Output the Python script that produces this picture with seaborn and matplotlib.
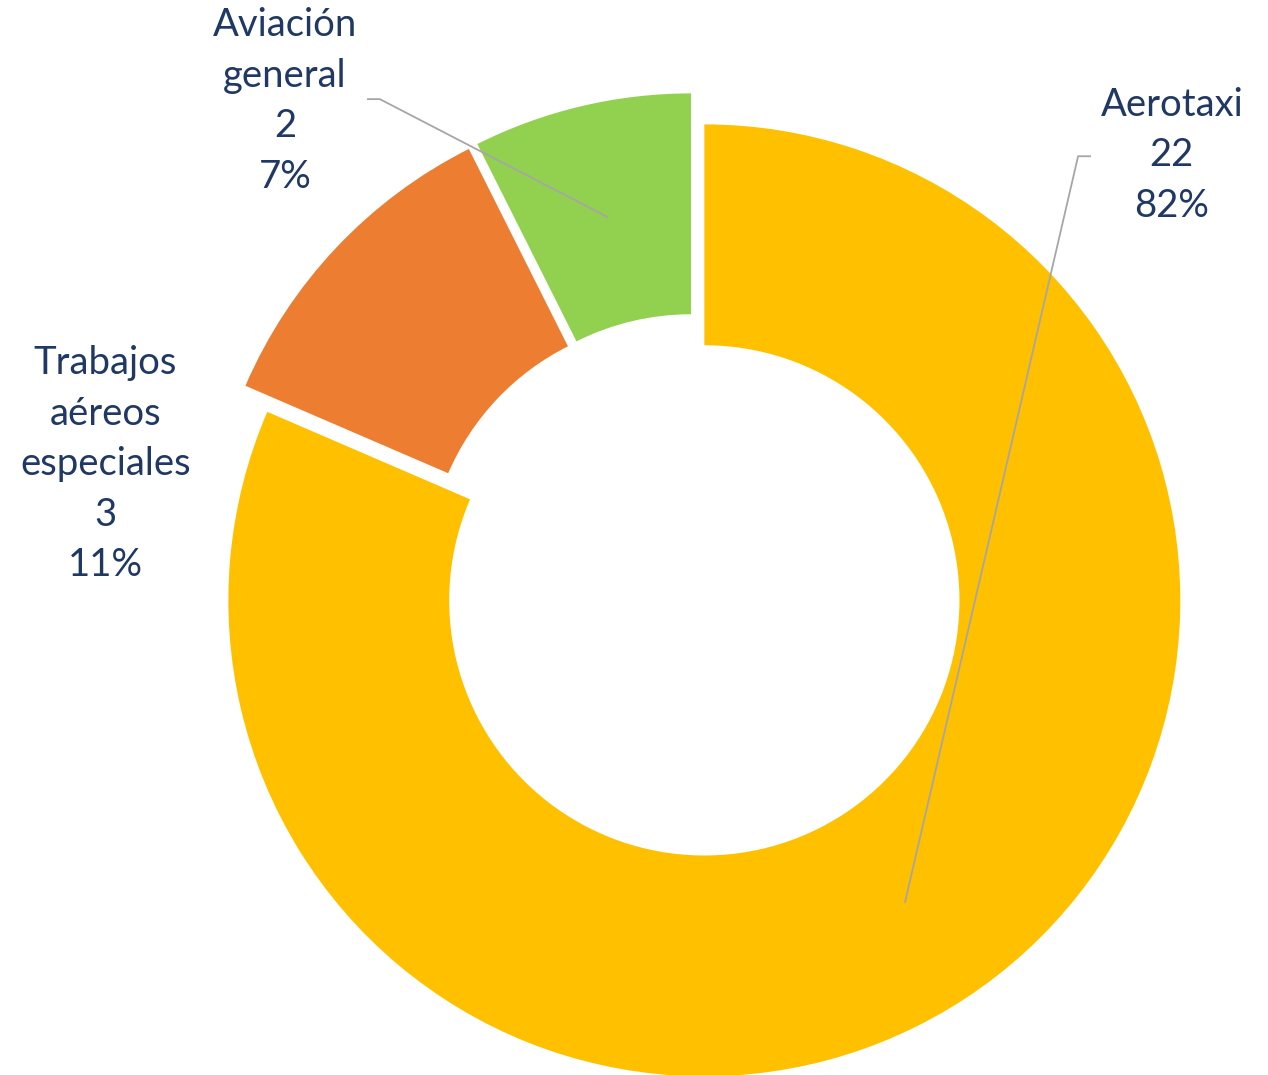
import matplotlib
matplotlib.use("Agg")
import matplotlib.pyplot as plt
import seaborn as sns

# data
categories = ["Aerotaxi", "Trabajos\naéreos\nespeciales", "Aviación\ngeneral"]
values = [22, 3, 2]
percents = [82, 11, 7]  # as printed on the chart
colors = ["#FFC000", "#ED7D31", "#92D050"]

sns.set_theme(style="white")
plt.rcParams["font.family"] = ["Lato", "DejaVu Sans"]

text_color = "#203864"
line_color = "#A6A6A6"

fig = plt.figure(figsize=(12.68, 10.75), dpi=100)
ax = fig.add_axes([0, 0, 1, 1])

wedges, _ = ax.pie(
    values,
    colors=colors,
    startangle=90,
    counterclock=False,
    radius=1.0,
    explode=[0.036] * len(values),
    wedgeprops=dict(width=0.464, linewidth=0),
)

ax.set_aspect("equal")
ax.set_xlim(-1.460, 1.204)
ax.set_ylim(-1.027, 1.231)
ax.axis("off")

labels = [f"{c}\n{v}\n{p}%" for c, v, p in zip(categories, values, percents)]

# label positions and leader lines (annotation placement only)
label_pos = [(1.002, 0.905), (-1.239, 0.256), (-0.861, 1.019)]
leaders = {
    0: [(0.832, 0.903), (0.805, 0.903), (0.441, -0.666)],
    2: [(-0.689, 1.023), (-0.662, 1.023), (-0.183, 0.775)],
}

for i, (lab, (x, y)) in enumerate(zip(labels, label_pos)):
    ax.text(x, y, lab, ha="center", va="center", fontsize=27.5,
            color=text_color, linespacing=1.5)
    if i in leaders:
        xs, ys = zip(*leaders[i])
        ax.plot(xs, ys, color=line_color, lw=1.3, solid_capstyle="butt")

fig.savefig("out.png", dpi=100)
